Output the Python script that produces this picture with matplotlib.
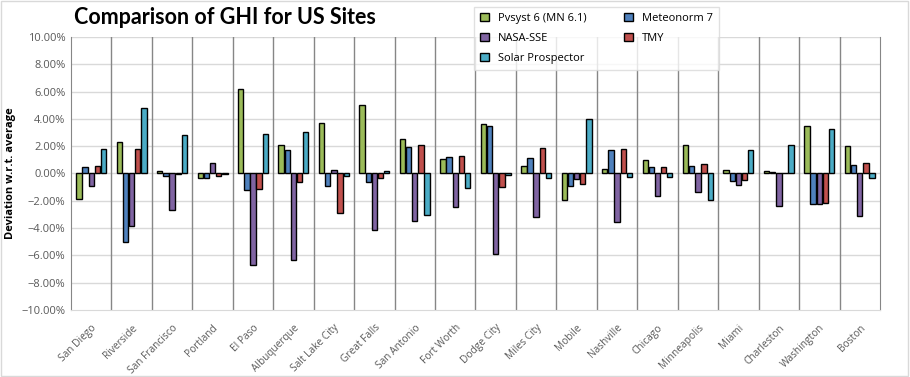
import numpy as np
import matplotlib.pyplot as plt
from matplotlib.ticker import PercentFormatter

# data (deviation w.r.t. average, %)
sites = ['San Diego', 'Riverside', 'San Francisco', 'Portland', 'El Paso',
         'Albuquerque', 'Salt Lake City', 'Great Falls', 'San Antonio',
         'Fort Worth', 'Dodge City', 'Miles City', 'Mobile', 'Nashville',
         'Chicago', 'Minneapolis', 'Miami', 'Charleston', 'Washington', 'Boston']

pvsyst = [-1.90, 2.27, 0.15, -0.37, 6.15, 2.05, 3.66, 4.98, 2.49, 1.03,
          3.59, 0.51, -1.93, 0.29, 0.95, 2.05, 0.22, 0.15, 3.44, 1.98]
meteonorm = [0.46, -5.05, -0.20, -0.37, -1.25, 1.68, -0.95, -0.66, 1.90, 1.17,
             3.44, 1.10, -0.95, 1.68, 0.44, 0.51, -0.59, 0.07, -2.27, 0.59]
nasa = [-0.95, -3.88, -2.71, 0.80, -6.74, -6.37, 0.22, -4.18, -3.52, -2.49,
        -5.93, -3.22, -0.44, -3.59, -1.68, -1.39, -0.88, -2.42, -2.27, -3.15]
tmy = [0.54, 1.78, -0.07, -0.22, -1.17, -0.61, -2.93, -0.37, 2.05, 1.25,
       -1.03, 1.83, -0.80, 1.76, 0.44, 0.66, -0.51, 0.05, -2.20, 0.73]
solar = [1.78, 4.76, 2.78, -0.07, 2.86, 3.00, -0.22, 0.15, -3.08, -1.10,
         -0.15, -0.37, 3.96, -0.29, -0.29, -1.98, 1.68, 2.05, 3.22, -0.37]

series = [('Pvsyst 6 (MN 6.1)', pvsyst, '#9BBB59'),
          ('Meteonorm 7', meteonorm, '#4F81BD'),
          ('NASA-SSE', nasa, '#8064A2'),
          ('TMY', tmy, '#C0504D'),
          ('Solar Prospector', solar, '#4BACC6')]

fig = plt.figure(figsize=(9.1, 3.77), dpi=100)
ax = fig.add_axes([0.078, 0.178, 0.889, 0.724])

x = np.arange(len(sites))
pitch = 0.152
width = 0.132
bars = {}
for i, (name, vals, col) in enumerate(series):
    bars[name] = ax.bar(x + (i - 2) * pitch, vals, width, color=col,
                        edgecolor='black', linewidth=1.0, zorder=3, label=name)

ax.set_xlim(-0.5, len(sites) - 0.5)
ax.set_ylim(-10, 10)
ax.set_yticks(np.arange(-10, 10.1, 2))
ax.yaxis.set_major_formatter(PercentFormatter(decimals=2))

# gridlines
for yv in np.arange(-8, 10.1, 2):
    ax.axhline(yv, color='#d9d9d9', linewidth=1, zorder=1)
for xv in np.arange(0.5, len(sites) - 0.5, 1):
    ax.axvline(xv, color='#868686', linewidth=1, zorder=1)

ax.spines['top'].set_visible(False)
ax.spines['right'].set_color('#868686')
ax.spines['left'].set_color('#868686')
ax.spines['bottom'].set_color('#d9d9d9')

ax.set_xticks(x)
ax.set_xticklabels(sites, rotation=45, ha='right', va='top',
                   rotation_mode='anchor', color='#595959', fontsize=7.3,
                   family='Open Sans')
ax.tick_params(axis='x', length=0, pad=9)
ax.tick_params(axis='y', length=0, pad=4, labelsize=8, labelcolor='#595959')
for lab in ax.get_yticklabels():
    lab.set_family('Open Sans')

ax.set_ylabel('Deviation w.r.t. average', fontsize=8, fontweight='bold',
              family='Open Sans', labelpad=4)

fig.text(0.081, 0.925, 'Comparison of GHI for US Sites', fontsize=15.5,
         fontweight='bold', family='Lato', va='bottom')

order = ['Pvsyst 6 (MN 6.1)', 'NASA-SSE', 'Solar Prospector', 'Meteonorm 7', 'TMY']
leg = fig.legend([bars[n] for n in order], order, ncol=2,
                 loc='upper left', bbox_to_anchor=(0.515, 0.997),
                 frameon=True, fancybox=False, edgecolor='#d9d9d9',
                 prop={'family': 'Open Sans', 'size': 8},
                 handlelength=0.8, handleheight=0.8, columnspacing=3.4,
                 labelspacing=0.8, borderpad=0.55)
leg.get_frame().set_linewidth(1)

# outer border
fig.patches.append(plt.Rectangle((0.001, 0.002), 0.997, 0.995,
                                 transform=fig.transFigure, fill=False,
                                 edgecolor='#d9d9d9', linewidth=1))

fig.savefig('out.png', dpi=100)
